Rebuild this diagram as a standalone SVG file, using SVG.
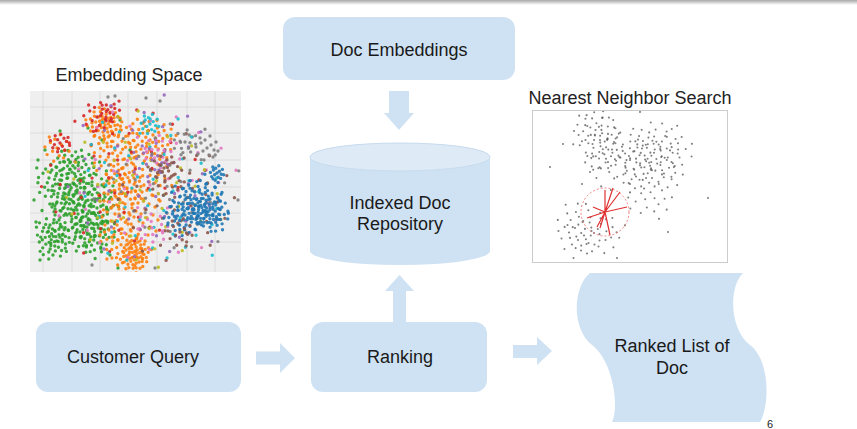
<svg xmlns="http://www.w3.org/2000/svg" xmlns:xlink="http://www.w3.org/1999/xlink" width="857" height="429" viewBox="0 0 857 429">
<style>
.box{fill:#cfe2f3}
.lbl{font-family:"Liberation Sans",Arial,sans-serif;font-size:18px;fill:#1a1a1a;text-anchor:middle}
.ttl{font-family:"Liberation Sans",Arial,sans-serif;font-size:18px;fill:#222;text-anchor:middle}
.dot{fill:none;stroke-linecap:round;vector-effect:non-scaling-stroke}
.emb use,.emb path{stroke-width:3.4;stroke-opacity:.9}
.nn use,.nn path{stroke-width:2.1;stroke:#555;stroke-opacity:.75}
.arrow{fill:#cfe2f3}
.grid{stroke:#dcdcdc;stroke-width:1}
</style>
<defs>
<linearGradient id="topbar" x1="0" y1="0" x2="0" y2="1">
<stop offset="0" stop-color="#a8a8a8"/>
<stop offset="1" stop-color="#ffffff"/>
</linearGradient>
<clipPath id="clipEmb"><rect x="30" y="91" width="211" height="181"/></clipPath>
<clipPath id="clipNN"><rect x="533" y="111" width="194" height="151"/></clipPath>
<path id="b1" class="dot" d="M0 0h0M4 2h0M-3 5h0M6 -4h0M-6 -2h0M2 -7h0M-2 9h0M9 6h0M-9 4h0M11 -1h0M-11 -6h0M3 12h0M-5 -11h0M13 8h0M-13 10h0M8 -12h0M-8 14h0M15 -6h0M-15 -1h0M1 16h0M17 3h0M-17 -9h0M10 15h0M-10 -15h0M19 -11h0M-19 6h0M5 -17h0M-4 19h0M20 12h0M-21 15h0M14 -16h0M-14 -18h0M23 0h0M-23 -3h0M7 22h0M-7 -22h0M25 -8h0M-25 10h0M18 20h0M-18 22h0M26 16h0M-26 -14h0M12 -23h0M-12 25h0M28 5h0M-28 2h0M2 -26h0M0 27h0M22 -20h0M-22 -21h0M30 -14h0M-30 20h0"/>
<path id="b2" class="dot" d="M1 -1h0M-4 3h0M5 4h0M-2 -6h0M7 -2h0M-8 -5h0M3 8h0M-6 9h0M10 3h0M-11 1h0M8 -9h0M-3 -12h0M12 10h0M-13 -8h0M0 14h0M15 -3h0M-15 6h0M6 -15h0M-9 15h0M17 7h0M-17 -12h0M11 -16h0M2 19h0M-19 -1h0M19 -10h0M-7 -19h0M13 17h0M-14 19h0M21 2h0M-22 9h0M4 -21h0M-2 23h0M24 -6h0M-24 -7h0M16 -20h0M-18 -22h0M26 12h0M-26 16h0M9 25h0M-11 -25h0M28 -1h0M-28 -16h0M20 22h0M-6 28h0M29 -17h0M-30 4h0"/>
<path id="b3" class="dot" d="M0 0h0M4 -3h0M-4 3h0M7 2h0M-6 -5h0M2 7h0M-2 -8h0M9 -6h0M-9 6h0M6 9h0M-7 -10h0M11 3h0M-11 -1h0M3 -12h0M-3 12h0"/>
</defs>

<rect x="0" y="0" width="857" height="5" fill="url(#topbar)"/>

<g id="embedding-space">
<text class="ttl" x="129" y="81">Embedding Space</text>
<rect x="30" y="91" width="211" height="181" fill="#efefef"/>
<g class="grid">
<path d="M43 91V272M72 91V272M100 91V272M128 91V272M157 91V272M187 91V272M215 91V272M30 107H241M30 133H241M30 160H241M30 187H241M30 213H241M30 242H241"/>
</g>
<g class="emb" clip-path="url(#clipEmb)">
<use xlink:href="#b1" stroke="#2ca02c" transform="translate(80 205)"/>
<use xlink:href="#b2" stroke="#2ca02c" transform="translate(70 222) rotate(30)"/>
<use xlink:href="#b1" stroke="#2ca02c" transform="translate(60 185) rotate(70) scale(0.8)"/>
<use xlink:href="#b2" stroke="#2ca02c" transform="translate(95 235) rotate(120) scale(0.7)"/>
<use xlink:href="#b1" stroke="#2ca02c" transform="translate(75 168) rotate(200) scale(0.7)"/>
<use xlink:href="#b2" stroke="#2ca02c" transform="translate(52 240) rotate(250) scale(0.6)"/>
<use xlink:href="#b1" stroke="#2ca02c" transform="translate(92 200) rotate(150) scale(0.9)"/>
<use xlink:href="#b2" stroke="#2ca02c" transform="translate(85 215) rotate(95) scale(1.1)"/>
<path class="dot" stroke="#2ca02c" d="M38 160h0M34 200h0M36 222h0M110 255h0M118 268h0M45 150h0M102 140h0M88 128h0M40 260h0M60 131h0M130 150h0M120 120h0"/>
<use xlink:href="#b1" stroke="#ff7f0e" transform="translate(130 215)"/>
<use xlink:href="#b2" stroke="#ff7f0e" transform="translate(125 245) rotate(40) scale(0.8)"/>
<use xlink:href="#b1" stroke="#ff7f0e" transform="translate(115 150) rotate(100) scale(0.9)"/>
<use xlink:href="#b2" stroke="#ff7f0e" transform="translate(140 180) rotate(160)"/>
<use xlink:href="#b1" stroke="#ff7f0e" transform="translate(105 125) rotate(220) scale(0.6)"/>
<use xlink:href="#b2" stroke="#ff7f0e" transform="translate(120 190) rotate(280) scale(0.8)"/>
<use xlink:href="#b1" stroke="#ff7f0e" transform="translate(135 255) rotate(300) scale(0.5)"/>
<use xlink:href="#b1" stroke="#ff7f0e" transform="translate(150 140) rotate(15) scale(0.8)"/>
<use xlink:href="#b3" stroke="#ff7f0e" transform="translate(57 148) scale(1.1)"/>
<use xlink:href="#b3" stroke="#d62728" transform="translate(60 143) rotate(90) scale(0.8)"/>
<use xlink:href="#b3" stroke="#d62728" transform="translate(97 117) scale(1.2)"/>
<use xlink:href="#b3" stroke="#d62728" transform="translate(110 113) rotate(60) scale(0.8)"/>
<use xlink:href="#b1" stroke="#e377c2" transform="translate(150 185) rotate(17) scale(2.6 2.8)"/>
<use xlink:href="#b2" stroke="#9467bd" transform="translate(145 180) rotate(73) scale(2.7)"/>
<use xlink:href="#b1" stroke="#d62728" transform="translate(120 175) rotate(140) scale(2.6)"/>
<use xlink:href="#b2" stroke="#7f7f7f" transform="translate(170 185) rotate(200) scale(2.3)"/>
<use xlink:href="#b1" stroke="#17becf" transform="translate(150 190) rotate(260) scale(2.5)"/>
<use xlink:href="#b2" stroke="#8c564b" transform="translate(175 200) rotate(310) scale(2)"/>
<use xlink:href="#b1" stroke="#bcbd22" transform="translate(140 190) rotate(45) scale(2.6)"/>
<use xlink:href="#b3" stroke="#9467bd" transform="translate(152 160) scale(1.4)"/>
<use xlink:href="#b3" stroke="#e377c2" transform="translate(158 150) rotate(40) scale(1.2)"/>
<use xlink:href="#b3" stroke="#e377c2" transform="translate(152 228) rotate(120) scale(1.3)"/>
<use xlink:href="#b3" stroke="#17becf" transform="translate(150 124) scale(0.8)"/>
<use xlink:href="#b3" stroke="#8c564b" transform="translate(170 178) scale(1.3)"/>
<use xlink:href="#b3" stroke="#8c564b" transform="translate(164 168) rotate(70) scale(1.1)"/>
<use xlink:href="#b1" stroke="#1f77b4" transform="translate(195 205) scale(0.9)"/>
<use xlink:href="#b2" stroke="#1f77b4" transform="translate(205 200) rotate(60) scale(0.8)"/>
<use xlink:href="#b1" stroke="#1f77b4" transform="translate(185 215) rotate(140) scale(0.7)"/>
<use xlink:href="#b2" stroke="#1f77b4" transform="translate(210 215) rotate(200) scale(0.6)"/>
<use xlink:href="#b3" stroke="#1f77b4" transform="translate(217 173) scale(0.6)"/>
<use xlink:href="#b3" stroke="#8c564b" transform="translate(180 232) scale(1.1)"/>
<use xlink:href="#b3" stroke="#7f7f7f" transform="translate(207 148) scale(1)"/>
<use xlink:href="#b3" stroke="#7f7f7f" transform="translate(185 142) rotate(45) scale(1)"/>
<path class="dot" stroke="#7f7f7f" d="M108 97h0M115 96h0M146 98h0M160 101h0M155 268h0M92 265h0"/>
</g>
</g>

<g id="nearest-neighbor">
<text class="ttl" x="630" y="104">Nearest Neighbor Search</text>
<rect x="532.5" y="110.5" width="195" height="152" fill="#ffffff" stroke="#cccccc" stroke-width="1"/>
<g class="nn" clip-path="url(#clipNN)">
<use xlink:href="#b1" transform="translate(630 160) scale(1.6 1.2)"/>
<use xlink:href="#b2" transform="translate(615 150) rotate(30) scale(1.5 1.0)"/>
<use xlink:href="#b1" transform="translate(652 178) rotate(100) scale(1.3 1.0)"/>
<use xlink:href="#b2" transform="translate(662 150) rotate(200)"/>
<use xlink:href="#b1" transform="translate(600 140) rotate(250) scale(1.0 0.8)"/>
<use xlink:href="#b2" transform="translate(590 228) rotate(20) scale(1.1 0.85)"/>
<use xlink:href="#b3" transform="translate(578 240) scale(1.5)"/>
<path class="dot" d="M550 167h0M668 232h0M708 198h0M617 258h0M640 112h0M563 144h0"/>
</g>
<circle cx="605" cy="212" r="24" fill="none" stroke="#f08080" stroke-width="1" stroke-dasharray="2 2"/>
<path d="M605 212L613 188M605 212L620 192M605 212L627 207M605 212L593 207M605 212L587 218M605 212L597 227M605 212L610 235M605 212L605 190M605 212L600 228" stroke="#e03030" stroke-width="1.2" fill="none"/>
</g>

<g id="connectors">
<path class="arrow" d="M389 91H409V113H414L399 130L384 113H389Z"/>
<path class="arrow" d="M393 322V291H385L399.5 275L414 291H406V322Z"/>
<path class="arrow" d="M256 351.5H280V343L295 358L280 373V364.5H256Z"/>
<path class="arrow" d="M513 345H537V337L552 351L537 365V358H513Z"/>
</g>

<g id="node-doc-embeddings">
<rect class="box" x="283" y="17" width="232" height="63" rx="12"/>
<text class="lbl" x="399" y="56">Doc Embeddings</text>
</g>

<g id="node-indexed-doc-repository">
<path class="box" d="M310 157V251A90 14 0 0 0 490 251V157A90 14 0 0 0 310 157Z"/>
<ellipse cx="400" cy="157" rx="90" ry="14" fill="#deebf7" stroke="#c8dbee" stroke-width="1"/>
<text class="lbl" x="400" y="209">Indexed Doc</text>
<text class="lbl" x="400" y="230">Repository</text>
</g>

<g id="node-customer-query">
<rect class="box" x="36" y="322" width="205" height="70" rx="12"/>
<text class="lbl" x="133" y="363">Customer Query</text>
</g>

<g id="node-ranking">
<rect class="box" x="311" y="322" width="176" height="70" rx="12"/>
<text class="lbl" x="400" y="363">Ranking</text>
</g>

<g id="node-ranked-list">
<path class="box" d="M590 273L743 273C728 288 730 330 750 345C770 360 770 405 760 422L612 422C620 405 612 360 592 345C572 330 572 288 590 273Z"/>
<text class="lbl" x="672" y="352">Ranked List of</text>
<text class="lbl" x="672" y="374">Doc</text>
</g>

<text x="770" y="428" font-family="'Liberation Sans',Arial,sans-serif" font-size="11" fill="#222" text-anchor="middle">6</text>
</svg>
